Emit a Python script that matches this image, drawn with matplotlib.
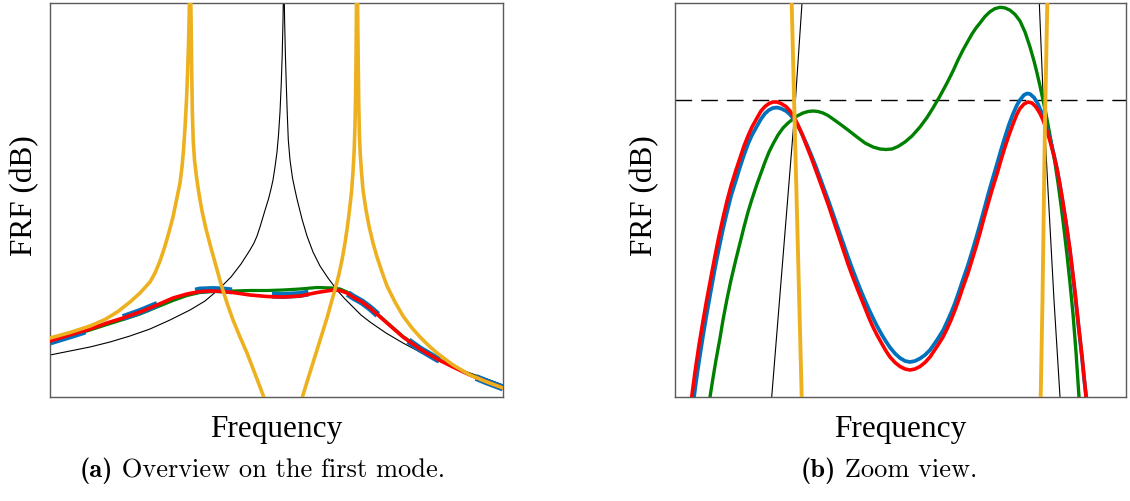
import matplotlib
matplotlib.use("Agg")
import matplotlib.pyplot as plt

plt.rcParams['mathtext.fontset'] = 'cm'
plt.rcParams['lines.scale_dashes'] = False
plt.rcParams['axes.unicode_minus'] = False

# ---------------- (a) overview : frequency (arb. units), FRF (dB) ----------------
# primary system alone (black)
f_prim = [5.0, 7.0, 9.0, 11.0, 13.0, 15.0, 17.0, 19.0, 20.5, 21.8, 23.1, 24.1, 25.0, 25.4,
          25.7, 26.0, 26.3, 26.6, 26.85, 27.1, 27.3, 27.5, 27.7, 27.85, 28.0, 28.12, 28.22,
          28.3, 28.34,
          28.42, 28.46, 28.54, 28.63, 28.72, 28.83, 29.0, 29.25, 29.5, 29.7, 30.2, 30.7, 31.3,
          32.0, 32.8, 33.7, 34.5, 35.3, 36.1, 37.0, 38.6, 40.3, 42.0, 43.7, 45.3, 47.0, 48.7, 50.3]
db_prim = [-35.5, -35.1, -34.7, -34.2, -33.6, -32.9, -32.0, -31.0, -30.1, -29.0, -27.7, -26.4, -25.0,
           -24.3, -23.6, -22.7, -21.7, -20.7, -19.9, -18.9, -18.0, -16.7, -15.2, -13.5, -11.2,
           -8.5, -5.5, -2.0, 0.5,
           0.5, -2.0, -5.5, -8.5, -11.2, -14.0, -16.0, -17.8, -19.0, -19.9, -21.9, -23.6, -25.2,
           -26.6, -27.8, -29.0, -29.9, -30.7, -31.5, -32.2, -33.3, -34.3, -35.2, -36.0, -36.7,
           -37.3, -37.9, -38.5]

# undamped absorber (yellow)
f_und = [5.0, 7.0, 9.0, 10.5, 11.8, 13.0, 14.0, 15.0, 15.5, 16.0, 16.5, 16.9, 17.3, 17.65, 18.0,
         18.2, 18.35, 18.5, 18.65, 18.75, 18.85, 18.92, 18.95,
         19.07, 19.12, 19.17, 19.23, 19.32, 19.45, 19.65, 19.9, 20.2, 20.6, 21.1, 21.6, 22.1,
         22.7, 23.3, 24.0, 24.7, 25.2, 25.7, 26.3, 26.6,
         30.0, 30.3, 30.7, 31.2, 31.7, 32.2, 32.7, 33.2, 33.6, 33.9, 34.2, 34.5, 34.75, 34.95,
         35.15, 35.3, 35.42, 35.5, 35.56, 35.6, 35.63, 35.65,
         35.75, 35.78, 35.82, 35.87, 35.94, 36.03, 36.15, 36.3, 36.6, 36.9, 37.3, 37.7, 38.2,
         38.7, 39.5, 40.3, 41.2, 42.0, 42.8, 43.7, 45.3, 47.0, 48.7, 50.3]
db_und = [-33.8, -33.25, -32.6, -31.95, -31.15, -30.2, -29.3, -28.2, -27.3, -26.1, -24.6, -23.2,
          -21.7, -20.0, -18.3, -16.7, -15.0, -12.8, -10.0, -7.5, -4.5, -1.5, 0.5,
          0.5, -3.0, -7.0, -11.0, -14.0, -16.0, -17.7, -19.4, -21.1, -22.9, -24.8, -26.6, -28.4,
          -30.3, -32.0, -33.7, -35.3, -36.6, -37.9, -39.5, -40.4,
          -40.5, -39.5, -38.2, -36.6, -35.0, -33.4, -31.8, -30.0, -28.6, -27.4, -26.0, -24.3,
          -22.6, -21.0, -19.2, -17.2, -15.0, -12.5, -9.5, -6.0, -2.5, 0.5,
          0.5, -2.5, -6.0, -10.0, -13.5, -15.5, -17.2, -19.0, -21.0, -22.6, -24.3, -25.7, -27.2,
          -28.6, -30.2, -31.6, -32.8, -33.7, -34.5, -35.3, -36.5, -37.5, -38.2, -38.8]

# damped absorbers
f_damp = [5.0, 7.3, 9.0, 10.7, 12.3, 14.0, 15.7, 17.3, 18.7, 20.0, 21.3, 22.3, 23.3, 25.0,
          26.7, 28.3, 30.0, 31.7, 33.3, 34.0, 34.7, 35.3, 36.2, 37.0, 37.8, 38.7, 39.5,
          40.3, 42.0, 43.7, 45.3, 47.0, 48.7, 50.3]
db_green = [-34.15, -33.5, -33.0, -32.45, -31.95, -31.4, -30.7, -30.05, -29.55, -29.25, -29.15, -29.1,
            -29.1, -29.05, -29.05, -29.0, -28.9, -28.75, -28.8, -28.9, -29.2, -29.65, -30.15, -30.75,
            -31.45, -32.25, -32.95, -33.65, -34.85, -35.85, -36.65, -37.45, -38.15, -38.75]
db_blue = [-34.2, -33.5, -32.95, -32.3, -31.75, -31.15, -30.45, -29.75, -29.3, -29.0, -28.95, -29.0,
           -29.1, -29.35, -29.5, -29.55, -29.45, -29.15, -28.95, -29.0, -29.3, -29.7, -30.2, -30.8,
           -31.5, -32.3, -33.0, -33.7, -34.9, -35.9, -36.7, -37.5, -38.2, -38.8]
db_red = [-34.1, -33.4, -32.9, -32.3, -31.8, -31.2, -30.5, -29.8, -29.4, -29.15, -29.1, -29.15,
          -29.25, -29.5, -29.65, -29.7, -29.6, -29.25, -29.0, -29.05, -29.3, -29.7, -30.2, -30.8,
          -31.5, -32.3, -33.0, -33.7, -34.9, -35.9, -36.7, -37.5, -38.2, -38.8]

# ---------------- (b) zoom view ----------------
fz_prim = [7.713, 7.717, 7.83, 7.943, 8.02, 8.026,
           10.388, 10.393, 10.433, 10.48, 10.54, 10.60, 10.608]
dbz_prim = [-4.10, -3.97, -2.57, -1.17, -0.03, 0.05,
            0.05, -0.03, -1.00, -1.90, -3.00, -3.97, -4.10]

fz_und = [7.916, 7.917, 7.945, 8.017, 8.02, 10.406, 10.407, 10.425, 10.45, 10.473, 10.474]
dbz_und = [0.05, -0.03, -1.17, -3.97, -4.10, -4.10, -3.97, -3.00, -1.20, -0.03, 0.05]

fz_red = [6.898, 6.917, 6.95, 6.99, 7.03, 7.067, 7.11, 7.15, 7.19, 7.23, 7.27, 7.31, 7.36, 7.40,
          7.44, 7.48, 7.52, 7.57, 7.61, 7.65, 7.69, 7.73, 7.77, 7.81, 7.86, 7.90, 7.94, 7.98,
          8.02, 8.07, 8.11, 8.15, 8.19, 8.23, 8.28, 8.32, 8.36, 8.40, 8.44, 8.48, 8.52, 8.57,
          8.61, 8.65, 8.69, 8.73, 8.77, 8.82, 8.86, 8.90, 8.95, 9.00, 9.05, 9.10, 9.15, 9.20,
          9.25, 9.30, 9.34, 9.38, 9.43, 9.47, 9.51, 9.55, 9.59, 9.63, 9.68, 9.72, 9.76, 9.80,
          9.84, 9.88, 9.92, 9.97, 10.01, 10.05, 10.09, 10.13, 10.17, 10.20, 10.24, 10.28, 10.32,
          10.36, 10.40, 10.43, 10.47, 10.50, 10.54, 10.57, 10.60, 10.63, 10.66, 10.70, 10.73,
          10.75, 10.78, 10.80, 10.82, 10.84, 10.86, 10.875]
dbz_red = [-4.10, -3.97, -3.72, -3.45, -3.21, -3.00, -2.77, -2.56, -2.36, -2.18, -2.01, -1.86,
           -1.70, -1.58, -1.46, -1.36, -1.27, -1.18, -1.11, -1.065, -1.035, -1.02, -1.02, -1.035,
           -1.065, -1.11, -1.17, -1.25, -1.34, -1.47, -1.57, -1.68, -1.79, -1.90, -2.04, -2.16,
           -2.28, -2.40, -2.52, -2.64, -2.75, -2.88, -2.98, -3.08, -3.18, -3.27, -3.35, -3.44,
           -3.51, -3.57, -3.625, -3.665, -3.69, -3.70, -3.69, -3.665, -3.625, -3.57, -3.51,
           -3.45, -3.37, -3.29, -3.20, -3.10, -2.99, -2.87, -2.73, -2.60, -2.47, -2.33, -2.18,
           -2.04, -1.90, -1.74, -1.60, -1.47, -1.35, -1.24, -1.14, -1.085, -1.04, -1.02, -1.03,
           -1.07, -1.135, -1.20, -1.31, -1.41, -1.56, -1.69, -1.85, -2.03, -2.22, -2.50, -2.75,
           -2.92, -3.20, -3.38, -3.56, -3.76, -3.97, -4.10]

fz_blue = [6.922, 6.94, 6.97, 7.00, 7.03, 7.067, 7.11, 7.15, 7.19, 7.23, 7.27, 7.31, 7.36, 7.40,
           7.44, 7.48, 7.52, 7.57, 7.61, 7.65, 7.69, 7.73, 7.77, 7.81, 7.86, 7.90, 7.94, 7.98,
           8.02, 8.07, 8.11, 8.15, 8.19, 8.23, 8.28, 8.32, 8.36, 8.40, 8.44, 8.48, 8.52, 8.57,
           8.61, 8.65, 8.69, 8.73, 8.77, 8.82, 8.86, 8.90, 8.95, 9.00, 9.05, 9.10, 9.15, 9.20,
           9.25, 9.30, 9.34, 9.38, 9.43, 9.47, 9.51, 9.55, 9.59, 9.63, 9.68, 9.72, 9.76, 9.80,
           9.84, 9.88, 9.92, 9.97, 10.01, 10.05, 10.09, 10.13, 10.17, 10.20, 10.24, 10.27, 10.30,
           10.34, 10.38, 10.41, 10.44, 10.47, 10.50, 10.54, 10.57, 10.60, 10.63, 10.66, 10.70,
           10.73, 10.75, 10.78, 10.80, 10.82, 10.84, 10.863, 10.878]
dbz_blue = [-4.10, -3.97, -3.75, -3.55, -3.36, -3.14, -2.90, -2.68, -2.48, -2.29, -2.12, -1.96,
            -1.80, -1.67, -1.55, -1.44, -1.35, -1.26, -1.19, -1.135, -1.10, -1.08, -1.075,
            -1.085, -1.11, -1.145, -1.195, -1.26, -1.34, -1.45, -1.545, -1.645, -1.75, -1.86,
            -1.995, -2.11, -2.225, -2.34, -2.455, -2.57, -2.68, -2.81, -2.91, -3.005, -3.095,
            -3.18, -3.26, -3.35, -3.415, -3.475, -3.535, -3.58, -3.61, -3.62, -3.61, -3.585,
            -3.55, -3.50, -3.445, -3.385, -3.305, -3.22, -3.13, -3.03, -2.915, -2.795, -2.65,
            -2.52, -2.385, -2.245, -2.10, -1.95, -1.81, -1.64, -1.50, -1.37, -1.245, -1.14,
            -1.05, -1.00, -0.95, -0.935, -0.94, -0.975, -1.04, -1.11, -1.19, -1.285, -1.39,
            -1.55, -1.69, -1.855, -2.04, -2.235, -2.515, -2.77, -2.94, -3.22, -3.40, -3.58,
            -3.78, -3.97, -4.10]

fz_green = [7.08, 7.10, 7.13, 7.16, 7.20, 7.23, 7.27, 7.31, 7.36, 7.40, 7.44, 7.48, 7.52, 7.57,
            7.61, 7.65, 7.69, 7.73, 7.78, 7.83, 7.88, 7.93, 7.97, 8.03, 8.08, 8.13, 8.18, 8.23,
            8.28, 8.33, 8.40, 8.48, 8.57, 8.65, 8.73, 8.80, 8.86, 8.92, 8.98, 9.05, 9.12, 9.20,
            9.27, 9.33, 9.40, 9.47, 9.53, 9.58, 9.63, 9.68, 9.72, 9.76, 9.80, 9.85, 9.90, 9.95,
            10.00, 10.05, 10.10, 10.15, 10.20, 10.25, 10.30, 10.34, 10.37, 10.40, 10.43, 10.46,
            10.49, 10.52, 10.55, 10.58, 10.61, 10.64, 10.67, 10.70, 10.73, 10.76, 10.78, 10.79,
            10.80]
dbz_green = [-4.10, -3.97, -3.78, -3.60, -3.38, -3.20, -2.99, -2.80, -2.59, -2.43, -2.27, -2.12,
             -1.99, -1.84, -1.73, -1.62, -1.52, -1.44, -1.35, -1.28, -1.23, -1.19, -1.16, -1.13,
             -1.115, -1.11, -1.115, -1.13, -1.155, -1.19, -1.24, -1.30, -1.37, -1.43, -1.47,
             -1.49, -1.495, -1.49, -1.465, -1.42, -1.36, -1.27, -1.175, -1.08, -0.96, -0.83,
             -0.71, -0.60, -0.50, -0.41, -0.34, -0.28, -0.23, -0.165, -0.117, -0.086, -0.073,
             -0.079, -0.102, -0.144, -0.21, -0.32, -0.47, -0.61, -0.73, -0.86, -1.00, -1.14,
             -1.30, -1.46, -1.63, -1.83, -2.05, -2.29, -2.55, -2.83, -3.14, -3.52, -3.82, -3.97,
             -4.10]

peak_level = -1.00

# ---------------- figure ----------------
W, H = 1130, 501
fig = plt.figure(figsize=(W / 100, H / 100), dpi=100)

def fx(px):
    return px / W

def fy(py):
    return 1 - py / H

ax1 = fig.add_axes([fx(50), fy(397), (503 - 50) / W, (397 - 3) / H])
ax2 = fig.add_axes([fx(675), fy(397), (1126 - 675) / W, (397 - 3) / H])

BLACK = 'black'
YELLOW = '#EDB120'
GREEN = '#008000'
BLUE = '#0072BD'
RED = '#FF0000'

ax1.plot(f_prim, db_prim, color=BLACK, lw=0.8, zorder=1)
ax1.plot(f_damp, db_green, color=GREEN, lw=2.3, zorder=2)
ax1.plot(f_damp, db_blue, color=BLUE, lw=5.0, zorder=3,
         dashes=(26.5, 29.0), dash_capstyle='butt')
ax1.plot(f_damp, db_red, color=RED, lw=2.6, zorder=4)
ax1.plot(f_und, db_und, color=YELLOW, lw=2.6, zorder=5)
ax1.set_xlim(5.0, 50.3)
ax1.set_ylim(-39.7, -0.3)

ax2.plot(fz_prim, dbz_prim, color=BLACK, lw=0.8, zorder=1)
ax2.axhline(peak_level, color=BLACK, lw=1.0, dashes=(12.0, 6.5), zorder=1)
ax2.plot(fz_green, dbz_green, color=GREEN, lw=2.4, zorder=2)
ax2.plot(fz_blue, dbz_blue, color=BLUE, lw=2.7, zorder=3)
ax2.plot(fz_red, dbz_red, color=RED, lw=2.6, zorder=4)
ax2.plot(fz_und, dbz_und, color=YELLOW, lw=2.8, zorder=5)
ax2.set_xlim(6.75, 11.26)
ax2.set_ylim(-3.97, -0.03)

for ax in (ax1, ax2):
    ax.set_xticks([])
    ax.set_yticks([])
    for s in ax.spines.values():
        s.set_color('#5a5a5a')
        s.set_linewidth(1.0)

lab = dict(family='Liberation Serif', size=22.5, ha='center', va='center')
fig.text(fx(25), fy(196), 'FRF (dB)', rotation=90, **lab)
fig.text(fx(645), fy(196), 'FRF (dB)', rotation=90, **lab)
fig.text(fx(276), fy(430), 'Frequency', **lab)
fig.text(fx(900), fy(430), 'Frequency', **lab)

# captions: bold label followed by roman text
cap_size = 19
fig.canvas.draw()
renderer = fig.canvas.get_renderer()
for x0, tag, rest in [(80, '(a)', ' Overview on the first mode.'),
                      (801, '(b)', ' Zoom view.')]:
    t1 = fig.text(fx(x0), fy(477), tag, family='cmb10', size=cap_size,
                  ha='left', va='baseline')
    bb = t1.get_window_extent(renderer)
    fig.text(bb.x1 / W, fy(477), rest, family='cmr10', size=cap_size,
             ha='left', va='baseline')

fig.savefig('out.png', dpi=100)
